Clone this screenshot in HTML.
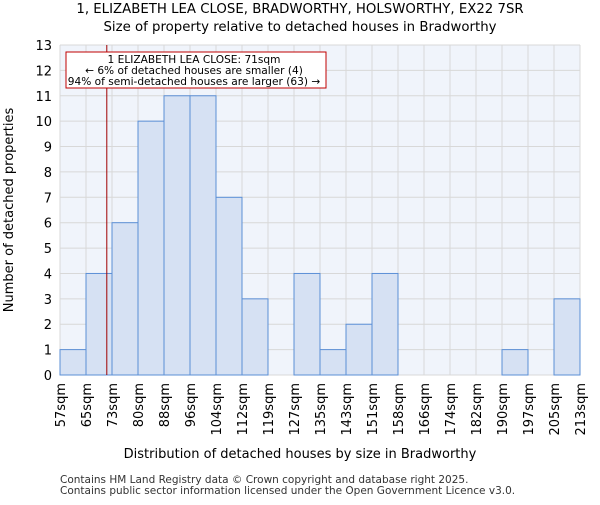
<!DOCTYPE html>
<html><head><meta charset="utf-8"><style>body{margin:0;background:#fff}text{font-family:"DejaVu Sans","Liberation Sans",sans-serif}</style></head>
<body>
<svg id="c" width="600" height="500" xmlns="http://www.w3.org/2000/svg">
<text x="300" y="13" font-size="13.3" text-anchor="middle">1, ELIZABETH LEA CLOSE, BRADWORTHY, HOLSWORTHY, EX22 7SR</text>
<text x="300" y="31" font-size="13.3" text-anchor="middle">Size of property relative to detached houses in Bradworthy</text>
<g id="plot"></g>
<text x="300" y="458" font-size="13" text-anchor="middle">Distribution of detached houses by size in Bradworthy</text>
<text transform="translate(13,210) rotate(-90)" font-size="13" text-anchor="middle">Number of detached properties</text>
<text x="60" y="483" font-size="10.5" fill="#333">Contains HM Land Registry data © Crown copyright and database right 2025.</text>
<text x="60" y="494" font-size="10.5" fill="#333">Contains public sector information licensed under the Open Government Licence v3.0.</text>
</svg>
<script>
const tickLabels=["57sqm","65sqm","73sqm","80sqm","88sqm","96sqm","104sqm","112sqm","119sqm","127sqm","135sqm","143sqm","151sqm","158sqm","166sqm","174sqm","182sqm","190sqm","197sqm","205sqm","213sqm"];
const counts=[1,4,6,10,11,11,7,3,0,4,1,2,4,0,0,0,0,1,0,3];
const yTicks=[0,1,2,3,4,5,6,7,8,9,10,11,12,13];
const markerBinPos=1.8;
const L=60,R=580,T=45,B=375,ymax=13;
const n=counts.length,bw=(R-L)/n;
const xs=i=>L+i*bw, ys=v=>B-(B-T)*v/ymax;
const g=document.getElementById('plot');
const NS="http://www.w3.org/2000/svg";
function mk(t,a,p){const e=document.createElementNS(NS,t);for(const k in a)e.setAttribute(k,a[k]);(p||g).appendChild(e);return e;}
const bg=mk('rect',{x:L,y:T,width:R-L,height:B-T,fill:'#f0f4fb'});


yTicks.forEach(v=>{
 const l=mk('line',{x1:L,x2:R,y1:ys(v),y2:ys(v),stroke:'#d8d8d8','stroke-width':1});
 
 
 const t=mk('text',{x:L-8,y:ys(v)+5,'font-size':13,'text-anchor':'end'});t.textContent=v;
 
 
});
tickLabels.forEach((s,i)=>{
 const l=mk('line',{x1:xs(i),x2:xs(i),y1:T,y2:B,stroke:'#d8d8d8','stroke-width':1});
 
 
 const t=mk('text',{transform:`translate(${xs(i)+5},383) rotate(-90)`,'font-size':13,'text-anchor':'end'});t.textContent=s;
 
 
});
counts.forEach((v,i)=>{
 const r=mk('rect',{x:xs(i),y:ys(v),width:bw,height:B-ys(v),fill:'#d6e1f3',stroke:'#5b8fd6','stroke-width':1});
 
 
});
const mx=xs(markerBinPos);
const ml=mk('line',{x1:mx,x2:mx,y1:T,y2:B,stroke:'#a00000','stroke-width':1});


const ab=mk('rect',{x:66,y:52,width:260,height:36,fill:'#fff',stroke:'#c00000','stroke-width':1});


["1 ELIZABETH LEA CLOSE: 71sqm","← 6% of detached houses are smaller (4)","94% of semi-detached houses are larger (63) →"].forEach((s,i)=>{
 const t=mk('text',{x:194,y:63+i*11,'font-size':10.6,'text-anchor':'middle'});t.textContent=s;
 
 
});
</script>
</body></html>
